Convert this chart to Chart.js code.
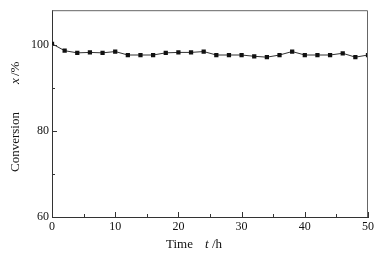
<!DOCTYPE html>
<html>
<head>
<meta charset="utf-8">
<script src="https://cdn.jsdelivr.net/npm/chart.js@4/dist/chart.umd.min.js"></script>
<style>
  body { margin: 0; background: #fff; }
  #wrap { width: 381px; height: 253px; }
</style>
</head>
<body>
<div id="wrap"><canvas id="chart-conv" width="381" height="253"></canvas></div>
<script>
// datos
const timeH = [0, 2, 4, 6, 8, 10, 12, 14, 16, 18, 20, 22, 24, 26, 28, 30, 32, 34, 36, 38, 40, 42, 44, 46, 48, 50];
const conversion = [100.2, 98.6, 98.1, 98.2, 98.1, 98.4, 97.6, 97.6, 97.6, 98.1, 98.2, 98.2, 98.4, 97.6, 97.6, 97.6, 97.3, 97.1, 97.6, 98.4, 97.6, 97.6, 97.6, 98.0, 97.1, 97.6];
const xTicks = [0, 10, 20, 30, 40, 50];
const xMinor = [5, 15, 25, 35, 45];
const yTicks = [60, 80, 100];
const yMinor = [70, 90];

const serif = "'Liberation Serif', 'Times New Roman', serif";
const axisColor = "#333";

// marco, marcas hacia dentro y titulos de ejes
const framePlugin = {
  id: "frame",
  afterDraw(chart) {
    const c = chart.ctx;
    const a = chart.chartArea;
    const sx = chart.scales.x;
    const sy = chart.scales.y;
    c.save();
    c.strokeStyle = "#666";
    c.lineWidth = 1;
    c.beginPath();
    c.moveTo(a.left, a.top + 0.5);
    c.lineTo(a.right - 0.5, a.top + 0.5);
    c.lineTo(a.right - 0.5, a.bottom);
    c.stroke();

    c.strokeStyle = axisColor;
    c.beginPath();
    xTicks.forEach(v => {
      const px = Math.round(sx.getPixelForValue(v)) + 0.5;
      c.moveTo(px, a.bottom); c.lineTo(px, a.bottom - 5);
    });
    xMinor.forEach(v => {
      const px = Math.round(sx.getPixelForValue(v)) + 0.5;
      c.moveTo(px, a.bottom); c.lineTo(px, a.bottom - 3);
    });
    yTicks.forEach(v => {
      const py = Math.round(sy.getPixelForValue(v)) + 0.5;
      c.moveTo(a.left, py); c.lineTo(a.left + 5, py);
    });
    yMinor.forEach(v => {
      const py = Math.round(sy.getPixelForValue(v)) + 0.5;
      c.moveTo(a.left, py); c.lineTo(a.left + 3, py);
    });
    c.stroke();

    // titulo eje x
    c.fillStyle = "#111";
    c.textBaseline = "middle";
    c.textAlign = "left";
    c.font = "13px " + serif;
    c.fillText("Time", 166, 245);
    c.font = "italic 13px " + serif;
    c.fillText("t", 205, 245);
    c.font = "13px " + serif;
    c.fillText("/h", 212, 245);

    // titulo eje y
    c.translate(16, 172);
    c.rotate(-Math.PI / 2);
    c.font = "13px " + serif;
    c.fillText("Conversion", 0, 0);
    c.font = "italic 13px " + serif;
    c.fillText("x", 88, 0);
    c.font = "13px " + serif;
    c.fillText("/%", 96, 0);
    c.restore();
  }
};

const ctx = document.getElementById("chart-conv").getContext("2d");
let myChart = new Chart(ctx, {
  type: "scatter",
  data: {
    datasets: [
      {
        label: "Conversion",
        data: timeH.map((t, i) => ({ x: t, y: conversion[i] })),
        showLine: true,
        borderColor: "#333",
        backgroundColor: "#111",
        borderWidth: 1,
        pointStyle: "rect",
        pointRadius: 3,
        pointBorderWidth: 0,
      }
    ],
  },
  options: {
    responsive: false,
    animation: false,
    layout: { padding: { top: 8, right: 13, left: 0, bottom: 0 } },
    plugins: { legend: { display: false }, tooltip: { enabled: false } },
    scales: {
      x: {
        type: "linear",
        min: 0,
        max: 50,
        afterFit: s => { s.height = 36; },
        afterBuildTicks: s => { s.ticks = xTicks.map(v => ({ value: v })); },
        grid: { display: true, drawOnChartArea: false, drawTicks: false },
        border: { display: true, color: axisColor, width: 1 },
        ticks: { color: "#111", font: { family: serif, size: 12 }, padding: 3, maxRotation: 0 },
      },
      y: {
        min: 60,
        max: 108,
        afterFit: s => { s.width = 52; },
        afterBuildTicks: s => { s.ticks = yTicks.map(v => ({ value: v })); },
        grid: { display: true, drawOnChartArea: false, drawTicks: false },
        border: { display: true, color: axisColor, width: 1 },
        ticks: { color: "#111", font: { family: serif, size: 12 }, padding: 3 },
      },
    },
  },
  plugins: [framePlugin],
});
</script>
</body>
</html>
